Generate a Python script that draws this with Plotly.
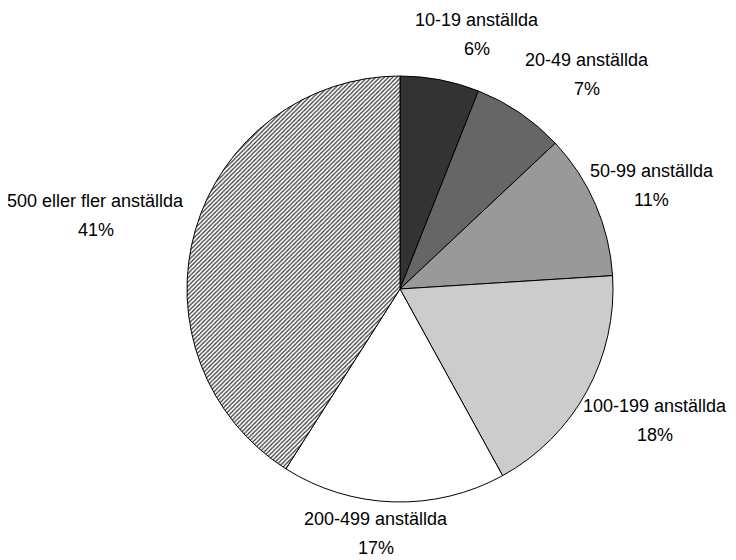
import math
import plotly.graph_objects as go

categories = ["10-19 anställda", "20-49 anställda", "50-99 anställda",
              "100-199 anställda", "200-499 anställda", "500 eller fler anställda"]
values = [6, 7, 11, 18, 17, 41]
colors = ["#333333", "#666666", "#999999", "#cccccc", "#ffffff", "#ffffff"]
patterns = ["", "", "", "", "", "/"]

# layout / styling
W, H = 736, 560
cx, cy, r = 400, 289, 213          # desired pie centre and radius in pixels
page_dx, page_dy = -8, -8          # compensation for page body margin
font_family = "Arial Narrow, Liberation Sans Narrow, Liberation Sans, Arial, sans-serif"
fsize = 18
line_gap = 29
label_nudges = [(22, 1), (21, 1), (-19, 0), (-10, 6), (-14, -15), (12, -1)]

pcx, pcy = cx + page_dx, cy + page_dy
fig = go.Figure(go.Pie(
    labels=categories, values=values, sort=False, direction="clockwise",
    rotation=0, textinfo="none", hoverinfo="label+percent",
    marker=dict(colors=colors, line=dict(color="black", width=1),
                pattern=dict(shape=patterns, fgcolor="#333333", size=3, solidity=0.4)),
    domain=dict(x=[(pcx - r) / W, (pcx + r) / W], y=[(H - pcy - r) / H, (H - pcy + r) / H]),
    showlegend=False,
))

total = sum(values)
cum = 0
annotations = []
gap = 25
for (cat, v), (nx, ny) in zip(zip(categories, values), label_nudges):
    theta = 2 * math.pi * (cum + v / 2) / total
    cum += v
    s, c = math.sin(theta), math.cos(theta)
    px = cx + (r + gap) * s
    py = cy - (r + gap) * c
    w = len(cat) * 7.6
    h = 44
    tx = px + w / 2 * s + nx + page_dx
    ty = py - h / 2 * c + ny + page_dy
    for txt, dy in ((cat, -line_gap / 2), (f"{round(100 * v / total)}%", line_gap / 2)):
        annotations.append(dict(
            x=tx / W, y=1 - (ty + dy) / H, xref="paper", yref="paper",
            text=txt, showarrow=False,
            xanchor="center", yanchor="middle", align="center",
            font=dict(family=font_family, size=fsize, color="black"),
        ))

fig.update_layout(
    width=W, height=H, margin=dict(l=0, r=0, t=0, b=0),
    paper_bgcolor="white", plot_bgcolor="white",
    annotations=annotations,
)
fig.write_html("out.html")
